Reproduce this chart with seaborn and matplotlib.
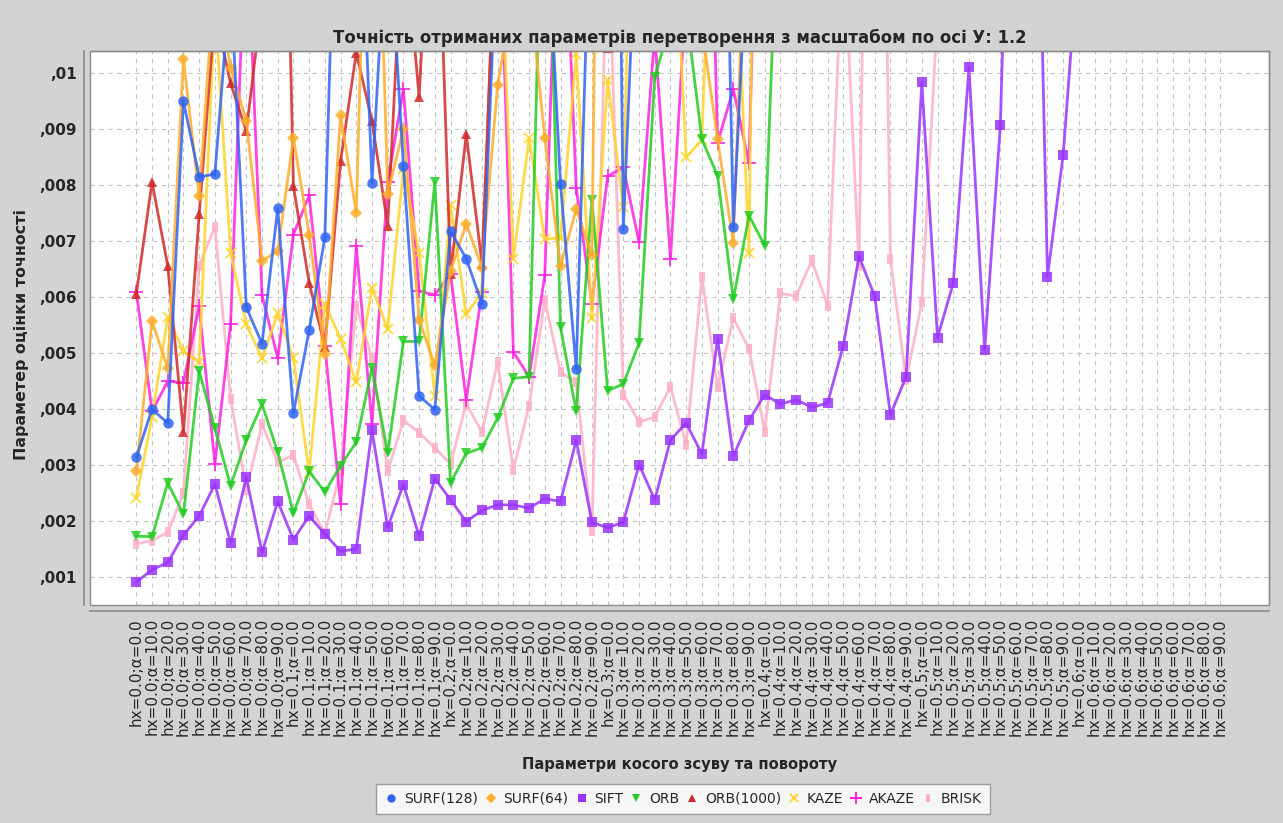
import numpy as np
import pandas as pd
import matplotlib
matplotlib.use("Agg")
import matplotlib.pyplot as plt
from matplotlib.lines import Line2D
from matplotlib.patches import Rectangle
import seaborn as sns

# Категорії осі X
hx_values = ["0.0", "0.1", "0.2", "0.3", "0.4", "0.5", "0.6"]
alpha_values = ["0.0", "10.0", "20.0", "30.0", "40.0", "50.0", "60.0", "70.0", "80.0", "90.0"]
x_labels = [f"hx={hx};α={a}" for hx in hx_values for a in alpha_values]

# Значення (точки вище 0.0104 виходять за межі графіка)
surf128 = [0.00314, 0.00400, 0.00375, 0.00950, 0.00815, 0.00820, 0.0117, 0.00582, 0.00517, 0.00759,
           0.00393, 0.00541, 0.00707, 0.0169, 0.0154, 0.00805, 0.0131, 0.00834, 0.00424, 0.00399,
           0.00718, 0.00669, 0.00588, 0.0127, 0.015, 0.015, 0.0136, 0.00802, 0.00472, 0.0142,
           0.0317, 0.00722, 0.0140, 0.02, 0.02, 0.02, 0.02, 0.021, 0.00725, 0.0130]
surf64 = [0.00289, 0.00557, 0.00473, 0.01026, 0.00780, 0.0118, 0.0101, 0.00915, 0.00665, 0.00682,
          0.00885, 0.00712, 0.00498, 0.00925, 0.00751, 0.0175, 0.00785, 0.00900, 0.00560, 0.00478,
          0.00647, 0.00731, 0.00653, 0.00980, 0.0114, 0.0116, 0.00884, 0.00655, 0.00757, 0.00676,
          0.03, 0.02, 0.02, 0.02, 0.02, 0.02, 0.0108, 0.00882, 0.00697, 0.0146]
sift = [0.00091, 0.00113, 0.00126, 0.00175, 0.00209, 0.00266, 0.00161, 0.00278, 0.00144, 0.00235,
        0.00167, 0.00209, 0.00177, 0.00146, 0.00150, 0.00362, 0.00189, 0.00265, 0.00173, 0.00276,
        0.00238, 0.00199, 0.00219, 0.00229, 0.00229, 0.00223, 0.00240, 0.00235, 0.00344, 0.00198,
        0.00188, 0.00198, 0.00301, 0.00238, 0.00345, 0.00375, 0.00320, 0.00526, 0.00316, 0.00380,
        0.00426, 0.00409, 0.00417, 0.00403, 0.00411, 0.00513, 0.00673, 0.00602, 0.00390, 0.00458,
        0.00984, 0.00528, 0.00625, 0.01011, 0.00506, 0.00908, 0.019, 0.019, 0.00637, 0.00855,
        0.0123]
orb = [0.00173, 0.00172, 0.00268, 0.00212, 0.00468, 0.00366, 0.00263, 0.00345, 0.00409, 0.00323,
       0.00214, 0.00289, 0.00252, 0.00299, 0.00341, 0.00474, 0.00321, 0.00521, 0.00521, 0.00806,
       0.00268, 0.00321, 0.00331, 0.00384, 0.00455, 0.00458, 0.0154, 0.00546, 0.00396, 0.00774,
       0.00433, 0.00445, 0.00518, 0.00993, 0.0109, 0.0111, 0.00882, 0.00817, 0.00596, 0.00746,
       0.00692, 0.0143]
orb1000 = [0.00606, 0.00806, 0.00656, 0.00359, 0.00748, 0.0111, 0.00982, 0.00897, 0.0113, 0.0207,
           0.00798, 0.00626, 0.00511, 0.00843, 0.01037, 0.00915, 0.00728, 0.0128, 0.00957, 0.0150,
           0.00642, 0.00891, 0.00660, 0.0135, 0.02, 0.02, 0.02, 0.02, 0.02, 0.02,
           0.01045, 0.02]
kaze = [0.00242, 0.00386, 0.00564, 0.00504, 0.00484, 0.0112, 0.00679, 0.00552, 0.00491, 0.00571,
        0.00491, 0.00286, 0.00588, 0.00526, 0.00448, 0.00617, 0.00543, 0.00830, 0.00679, 0.00424,
        0.00764, 0.00570, 0.00608, 0.0137, 0.00669, 0.00884, 0.00704, 0.00706, 0.01034, 0.00562,
        0.00988, 0.00761, 0.02, 0.02, 0.0141, 0.00850, 0.00881, 0.0164, 0.0134, 0.00679,
        0.03]
akaze = [0.00610, 0.00396, 0.00450, 0.00447, 0.00584, 0.00302, 0.00552, 0.0130, 0.00604, 0.00491,
         0.00712, 0.00782, 0.00513, 0.00230, 0.00692, 0.00373, 0.00806, 0.00972, 0.00611, 0.00604,
         0.00642, 0.00416, 0.00610, 0.0140, 0.00502, 0.00458, 0.00639, 0.0148, 0.00796, 0.00588,
         0.00816, 0.00832, 0.00698, 0.01070, 0.00668, 0.0115, 0.0197, 0.00876, 0.00972, 0.00839,
         0.0190]
brisk = [0.00159, 0.00165, 0.00180, 0.00250, 0.00656, 0.00726, 0.00419, 0.00256, 0.00373, 0.00305,
         0.00318, 0.00230, 0.00178, 0.00290, 0.00585, 0.00491, 0.00289, 0.00380, 0.00358, 0.00331,
         0.00302, 0.00410, 0.00359, 0.00484, 0.00292, 0.00406, 0.00595, 0.00466, 0.00448, 0.00182,
         0.0128, 0.00426, 0.00377, 0.00386, 0.00440, 0.00336, 0.00636, 0.00439, 0.00563, 0.00508,
         0.00360, 0.00607, 0.00602, 0.00666, 0.00585, 0.0125, 0.00656, 0.025, 0.00669, 0.00452,
         0.00591, 0.0111]

series_names = ["SURF(128)", "SURF(64)", "SIFT", "ORB", "ORB(1000)", "KAZE", "AKAZE", "BRISK"]
series_values = [surf128, surf64, sift, orb, orb1000, kaze, akaze, brisk]

y_ticks = [0.001, 0.002, 0.003, 0.004, 0.005, 0.006, 0.007, 0.008, 0.009, 0.01]
y_tick_labels = [",001", ",002", ",003", ",004", ",005", ",006", ",007", ",008", ",009", ",01"]

# Стиль серій
colors = ["#2f63f5", "#ffac2a", "#9933ff", "#22cc22", "#d02a2a", "#ffd42a", "#ff22e0", "#ffb0c6"]
brisk_marker = [(-0.55, -1), (0.55, -1), (0.55, 1), (-0.55, 1), (-0.55, -1)]
markers = ["o", "D", "s", "v", "^", "x", "+", brisk_marker]
msizes = [7.5, 6.5, 7.5, 7.5, 7.5, 7.5, 9.5, 7.5]

rows = []
for name, vals in zip(series_names, series_values):
    for i, v in enumerate(vals):
        rows.append({"series": name, "pos": i, "value": v})
df = pd.DataFrame(rows)

sns.set_style("white")
plt.rcParams["font.family"] = ["DejaVu Sans"]

bg = "#d3d3d3"
fig = plt.figure(figsize=(12.83, 8.23), dpi=100, facecolor=bg)
ax = fig.add_axes([90 / 1283, 1 - 605 / 823, (1269 - 90) / 1283, (605 - 51) / 823])
ax.set_facecolor("white")

# Окремі осі зі зсувом + рамка області графіка (до налаштування підписів)
for side in ["top", "right"]:
    ax.spines[side].set_color("#8a8a8a")
    ax.spines[side].set_linewidth(1)
for side in ["bottom", "left"]:
    ax.spines[side].set_position(("outward", 4.5))
    ax.spines[side].set_color("#8a8a8a")
    ax.spines[side].set_linewidth(1.2)
ax.add_patch(Rectangle((0, 0), 1, 1, transform=ax.transAxes, fill=False,
                       edgecolor="#8a8a8a", linewidth=1, clip_on=False, zorder=50))

# Серія 0 зверху (як у JFreeChart)
for k in reversed(range(len(series_names))):
    name = series_names[k]
    sub = df[df["series"] == name]
    mk = markers[k]
    line_marker = mk in ("x", "+")
    sns.lineplot(data=sub, x="pos", y="value", ax=ax, color=colors[k], marker=mk,
                 markersize=msizes[k], linewidth=2, alpha=0.85, errorbar=None, sort=False,
                 markeredgecolor=colors[k], markeredgewidth=1.4 if line_marker else 0,
                 zorder=10 + (len(series_names) - k), legend=False)

ax.set_xlim(-2.95, 72.1)
ax.set_ylim(0.0005, 0.0104)
ax.set_xticks(range(len(x_labels)))
ax.set_xticklabels(x_labels, rotation=90, fontsize=11)
ax.set_yticks(y_ticks)
ax.set_yticklabels(y_tick_labels, fontsize=11, fontweight="bold")
ax.set_xlabel("")
ax.set_ylabel("")
ax.tick_params(axis="both", direction="out", length=3, width=1, color="#8a8a8a", pad=2)

ax.grid(True, color="#c4c4c4", linewidth=0.8, linestyle=(0, (4, 4)))
ax.set_axisbelow(True)

cx = (90 + 1269) / 2 / 1283
fig.text(cx, 1 - 38 / 823, "Точність отриманих параметрів перетворення з масштабом по осі У: 1.2",
         ha="center", va="center", fontsize=11.9, fontweight="bold")
fig.text(cx, 1 - 765 / 823, "Параметри косого зсуву та повороту",
         ha="center", va="center", fontsize=10.6, fontweight="bold")
fig.text(22 / 1283, 1 - 334 / 823, "Параметер оцінки точності", rotation=90,
         ha="center", va="center", fontsize=11.4, fontweight="bold")

handles = [Line2D([], [], linestyle="none", marker=markers[k], color=colors[k],
                  markersize=msizes[k] - 1.5, markeredgewidth=1.4 if markers[k] in ("x", "+") else 0)
           for k in range(len(series_names))]
leg = fig.legend(handles, series_names, loc="center", bbox_to_anchor=(683 / 1283, 1 - 799 / 823),
                 ncol=8, frameon=True, fancybox=False, fontsize=10, handlelength=1.0,
                 handletextpad=0.4, columnspacing=0.45, borderpad=0.6)
leg.get_frame().set_edgecolor("#8a8a8a")
leg.get_frame().set_linewidth(1)
leg.get_frame().set_facecolor("white")

fig.savefig("out.png", dpi=100, facecolor=bg)
